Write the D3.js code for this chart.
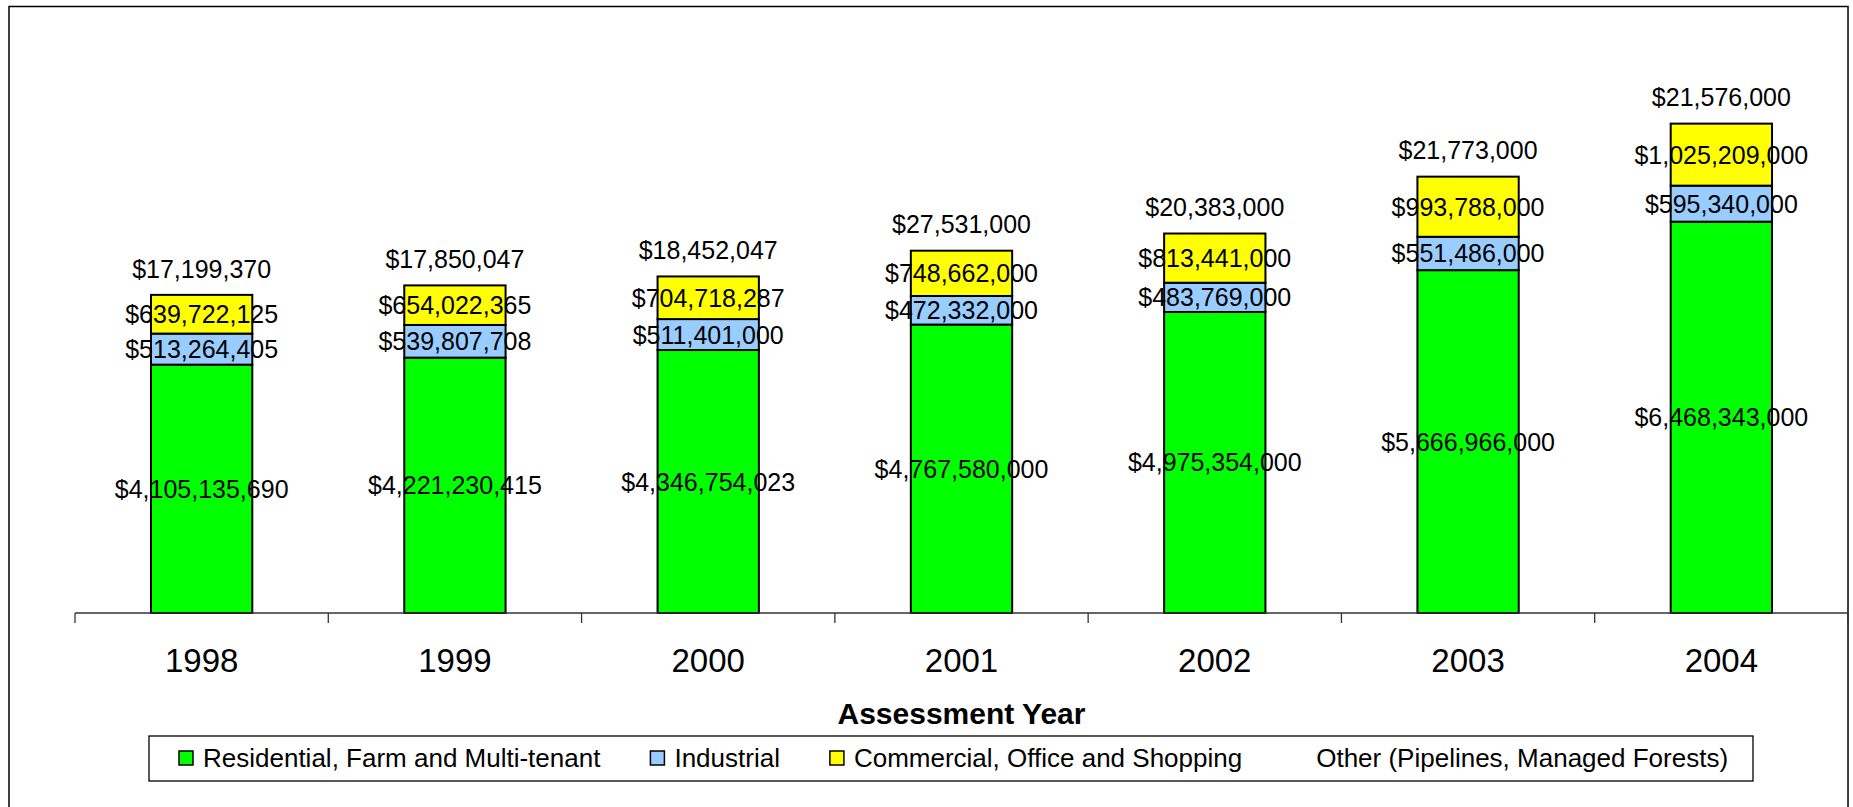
<!DOCTYPE html>
<html>
<head>
<meta charset="utf-8">
<script src="https://cdn.jsdelivr.net/npm/d3@7/dist/d3.min.js"></script>
<style>
  html, body { margin: 0; padding: 0; background: #fff; }
  svg { display: block; font-family: "Liberation Sans", Arial, sans-serif; }
</style>
</head>
<body>
<svg id="chart" width="1853" height="807"></svg>
<script>
// Assessed values by property class, 1998–2004
const years = ["1998", "1999", "2000", "2001", "2002", "2003", "2004"];
const residential = [4105135690, 4221230415, 4346754023, 4767580000, 4975354000, 5666966000, 6468343000];
const industrial  = [513264405, 539807708, 511401000, 472332000, 483769000, 551486000, 595340000];
const commercial  = [639722125, 654022365, 704718287, 748662000, 813441000, 993788000, 1025209000];
const other       = [17199370, 17850047, 18452047, 27531000, 20383000, 21773000, 21576000];

const seriesNames = [
  "Residential, Farm and Multi-tenant",
  "Industrial",
  "Commercial, Office and Shopping",
  "Other (Pipelines, Managed Forests)"
];
const seriesColors = ["#00ff00", "#99ccff", "#ffff00", "none"];
const yMax = 10000000000;

const svg = d3.select("#chart");
const W = 1853, H = 807;

// outer chart frame (bottom edge runs past the page)
svg.append("rect")
  .attr("x", 9).attr("y", 6.5)
  .attr("width", 1839).attr("height", 900)
  .attr("fill", "#fff").attr("stroke", "#000").attr("stroke-width", 1.5);

const plot = { left: 75, right: 1848, top: 8, bottom: 613 };

const rows = years.map((yr, i) => ({
  year: yr,
  residential: residential[i],
  industrial: industrial[i],
  commercial: commercial[i],
  other: other[i]
}));
const keys = ["residential", "industrial", "commercial", "other"];
const stacked = d3.stack().keys(keys)(rows);

const x = d3.scaleBand()
  .domain(years)
  .range([plot.left, plot.right])
  .paddingInner(0.6)
  .paddingOuter(0.3);

const y = d3.scaleLinear()
  .domain([0, yMax])
  .range([plot.bottom, plot.top]);

const fmt = v => "$" + d3.format(",")(v);

// stacked bars
const layers = svg.append("g").selectAll("g")
  .data(stacked)
  .join("g")
  .attr("fill", (d, i) => seriesColors[i]);

layers.selectAll("rect")
  .data(d => d.map(p => ({ p, key: d.key })))
  .join("rect")
  .attr("x", d => x(d.p.data.year))
  .attr("y", d => y(d.p[1]))
  .attr("width", x.bandwidth())
  .attr("height", d => y(d.p[0]) - y(d.p[1]))
  .attr("stroke", d => d.key === "other" ? "none" : "#000")
  .attr("stroke-width", 2);

// x axis: baseline with category-boundary ticks
const axisG = svg.append("g");
axisG.append("line")
  .attr("x1", plot.left).attr("x2", plot.right)
  .attr("y1", plot.bottom).attr("y2", plot.bottom)
  .attr("stroke", "#333").attr("stroke-width", 1.3);
const step = x.step();
d3.range(years.length + 1).forEach(i => {
  const tx = plot.left + i * step;
  axisG.append("line")
    .attr("x1", tx).attr("x2", tx)
    .attr("y1", plot.bottom).attr("y2", plot.bottom + 10)
    .attr("stroke", "#333").attr("stroke-width", 1.3);
});
axisG.selectAll("text.year")
  .data(years)
  .join("text")
  .attr("class", "year")
  .attr("x", d => x(d) + x.bandwidth() / 2)
  .attr("y", 672)
  .attr("text-anchor", "middle")
  .attr("font-size", 33)
  .attr("fill", "#000")
  .text(d => d);

// segment value labels
const labelG = svg.append("g")
  .attr("font-size", 25)
  .attr("fill", "#000")
  .attr("text-anchor", "middle");

stacked.forEach(layer => {
  layer.forEach(p => {
    const cx = x(p.data.year) + x.bandwidth() / 2;
    const val = p.data[layer.key];
    let cy;
    if (layer.key === "other") {
      cy = y(p[1]) - 25;
    } else {
      cy = (y(p[0]) + y(p[1])) / 2;
    }
    labelG.append("text")
      .attr("x", cx)
      .attr("y", cy)
      .attr("dy", "0.36em")
      .text(fmt(val));
  });
});

// axis title
svg.append("text")
  .attr("x", (plot.left + plot.right) / 2)
  .attr("y", 724)
  .attr("text-anchor", "middle")
  .attr("font-size", 30)
  .attr("font-weight", "bold")
  .attr("fill", "#000")
  .text("Assessment Year");

// legend
const legend = svg.append("g");
legend.append("rect")
  .attr("x", 149).attr("y", 736)
  .attr("width", 1604).attr("height", 45)
  .attr("fill", "#fff").attr("stroke", "#000").attr("stroke-width", 1.3);

let lx = 179;
seriesNames.forEach((name, i) => {
  const g = legend.append("g");
  g.append("rect")
    .attr("x", lx).attr("y", 751)
    .attr("width", 14).attr("height", 14)
    .attr("fill", seriesColors[i])
    .attr("stroke", seriesColors[i] === "none" ? "none" : "#000")
    .attr("stroke-width", 1.5);
  const t = g.append("text")
    .attr("x", lx + 24)
    .attr("y", 758)
    .attr("dy", "0.36em")
    .attr("font-size", 26)
    .attr("fill", "#000")
    .text(name);
  lx += 24 + t.node().getComputedTextLength() + 50;
});
</script>
</body>
</html>
